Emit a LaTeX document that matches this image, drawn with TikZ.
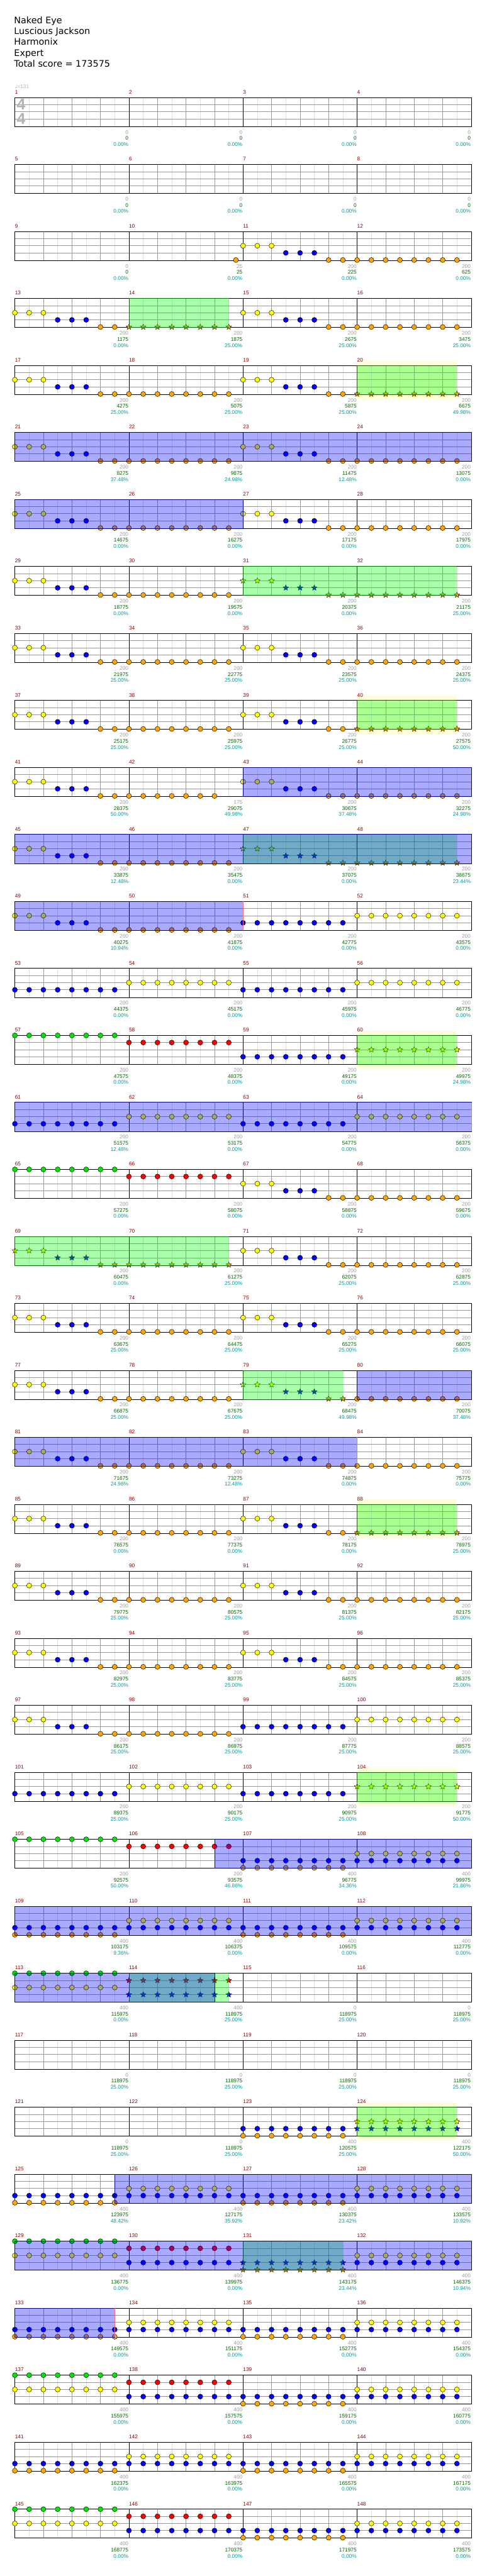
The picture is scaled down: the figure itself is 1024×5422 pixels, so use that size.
\documentclass[tikz,border=0pt]{standalone}
\usepackage{fontspec}
\setmainfont{Liberation Sans}
\newfontfamily\headfont{DejaVu Sans}
\usetikzlibrary{shapes.geometric}

\definecolor{lane0}{RGB}{0,230,0}
\definecolor{lane1}{RGB}{255,0,0}
\definecolor{lane2}{RGB}{255,255,0}
\definecolor{lane3}{RGB}{0,0,255}
\definecolor{lane4}{RGB}{255,165,0}
\definecolor{numred}{RGB}{139,0,0}
\definecolor{basegray}{RGB}{160,160,160}
\definecolor{totalgreen}{RGB}{0,100,0}
\definecolor{pctteal}{RGB}{0,155,155}
\definecolor{gridmid}{RGB}{153,153,153}
\definecolor{gridlight}{RGB}{221,221,221}
\definecolor{phraseyellow}{RGB}{255,255,215}
\definecolor{fillgreen}{RGB}{0,255,0}
\definecolor{filledge}{RGB}{0,110,0}
\definecolor{odnavy}{RGB}{0,0,128}
\definecolor{odendred}{RGB}{255,110,110}

\def\pNone{}
\def\pYBO{2/0/2,3/3/5,4/6/7}
\def\pO{4/0/7}
\def\pOs{4/0/6}
\def\pB{3/0/7}
\def\pY{2/0/7}
\def\pG{0/0/7}
\def\pR{1/0/7}
\def\pBO{3/0/7,4/0/7}
\def\pYB{2/0/7,3/0/7}
\def\pGY{0/0/7,2/0/7}
\def\pRB{1/0/7,3/0/7}

\newcommand{\zonex}[2]{31.3+240*#1+30*#2}

% row, bar, note style, notes, base, total, percent
\newcommand{\drumbar}[7]{%
  \pgfmathsetmacro{\barx}{31.3+240*#2}%
  \pgfmathsetmacro{\bary}{205.3+141*#1}%
  \pgfmathtruncatemacro{\barno}{4*#1+#2+1}%
  \node[barnum] (num\barno) at (\barx,\bary-7.6) {\barno};
  \ifx#4\pNone\else
    \foreach \lane/\nfrom/\nto in #4 {%
      \edef\notecol{lane\lane}%
      \foreach \k in {\nfrom,...,\nto}
        \node[#3,fill=\notecol] (note\barno-\lane-\k) at ({\barx+30*\k},{\bary+15*\lane}) {};
    }%
  \fi
  \node[basenum] (base\barno) at (\barx+239,\bary+76.7) {#5};
  \node[totalnum] (total\barno) at (\barx+239,\bary+89.7) {#6};
  \node[pctnum] (pct\barno) at (\barx+239,\bary+102.4) {#7\%};
}

\newcommand{\odphrase}[2]{%
  \pgfmathsetmacro{\zy}{205.3+141*#1}%
  \fill[phraseyellow] ({\zonex{#2}{0}},\zy-10) rectangle ({\zonex{#2}{7}},\zy+71);}

\newcommand{\fillzone}[5]{%
  \pgfmathsetmacro{\zy}{205.3+141*#1}%
  \fill[fillarea] ({\zonex{#2}{#3}},\zy) rectangle ({\zonex{#4}{#5}},\zy+61);
  \draw[filledge] ({\zonex{#4}{#5}},\zy) -- ({\zonex{#2}{#3}},\zy)
    -- ({\zonex{#2}{#3}},\zy+61) -- ({\zonex{#4}{#5}},\zy+61);}

\newcommand{\odzone}[5]{%
  \pgfmathsetmacro{\zy}{205.3+141*#1}%
  \path[odarea] ({\zonex{#2}{#3}},\zy) rectangle ({\zonex{#4}{#5}},\zy+61);}

\newcommand{\odend}[3]{%
  \pgfmathsetmacro{\zy}{205.3+141*#1}%
  \draw[odendred, line width=1pt] ({\zonex{#2}{#3}},\zy) -- ++(0,61);}

\newcommand{\odstart}[1]{%
  \pgfmathsetmacro{\zy}{205.3+141*#1}%
  \draw[odnavy, line width=1pt] (991.3,\zy) -- ++(0,61);}

\begin{document}
\begin{tikzpicture}[
    x=1pt, y=-1pt,
    note/.style={circle, draw=black, line width=0.6pt, minimum size=10.6pt, inner sep=0pt},
    starnote/.style={star, star points=5, star point ratio=2.2, draw=black, line width=0.5pt, minimum size=12.5pt, inner sep=0pt},
    barnum/.style={anchor=base west, inner sep=0pt, text=numred, font=\fontsize{11}{13}\selectfont},
    basenum/.style={anchor=base east, inner sep=0pt, text=basegray, font=\fontsize{11}{13}\selectfont},
    totalnum/.style={anchor=base east, inner sep=0pt, text=totalgreen, font=\fontsize{11}{13}\selectfont},
    pctnum/.style={anchor=base east, inner sep=0pt, text=pctteal, font=\fontsize{11}{13}\selectfont},
    headline/.style={anchor=base west, inner sep=0pt, font=\headfont\fontsize{19}{23}\selectfont},
    timesig/.style={inner sep=0pt, text=basegray!80, font=\bfseries\fontsize{33}{33}\selectfont},
    thingrid/.style={draw=gridlight, line width=1pt},
    midgrid/.style={draw=gridmid, line width=1pt},
    barline/.style={draw=black, line width=1pt},
    fillarea/.style={fill=fillgreen, fill opacity=0.333},
    filledge/.style={draw=filledge, line width=1pt},
    odarea/.style={fill=lane3, fill opacity=0.333, draw=odnavy, line width=1pt},
  ]
  \fill[white] (0,0) rectangle (1024,5422);
  \useasboundingbox (0,0) rectangle (1024,5422);

  \node[headline] (song) at (29.5,49.3) {Naked Eye};
  \node[headline] (artist) at (29.5,72.3) {Luscious Jackson};
  \node[headline] (charter) at (29.5,95.3) {Harmonix};
  \node[headline] (level) at (29.5,118.3) {Expert};
  \node[headline] (score) at (29.5,141.3) {Total score = 173575};
  \node[anchor=base west, inner sep=0pt, text=basegray!80, font=\fontsize{11}{13}\selectfont]
    (tempo) at (31,185.7) {{\headfont ♩}=131};

  \odphrase{4}{3}
  \odphrase{9}{3}
  \odphrase{14}{3}
  \odphrase{21}{3}
  \odphrase{25}{3}
  \odphrase{30}{3}

  \foreach \r in {0,...,36}{
    \pgfmathsetmacro{\ty}{205.3+141*\r}
    \foreach \k in {0,...,15}
      \draw[thingrid] (61.3+60*\k,\ty) -- ++(0,61);
    \foreach \h in {15,30,45}
      \draw[midgrid] (31.3,\ty+\h) -- ++(960,0);
    \foreach \k in {1,...,15}
      \draw[midgrid] (31.3+60*\k,\ty) -- ++(0,61);
    \foreach \k in {1,2,3}
      \draw[barline] (31.3+240*\k,\ty) -- ++(0,61);
    \draw[barline] (31.3,\ty) rectangle ++(960,61);
  }

  \node[timesig] (tsupper) at (44.5,220) {4};
  \node[timesig] (tslower) at (44.5,250) {4};

  \drumbar{0}{0}{note}{\pNone}{0}{0}{0.00}
  \drumbar{0}{1}{note}{\pNone}{0}{0}{0.00}
  \drumbar{0}{2}{note}{\pNone}{0}{0}{0.00}
  \drumbar{0}{3}{note}{\pNone}{0}{0}{0.00}
  \drumbar{1}{0}{note}{\pNone}{0}{0}{0.00}
  \drumbar{1}{1}{note}{\pNone}{0}{0}{0.00}
  \drumbar{1}{2}{note}{\pNone}{0}{0}{0.00}
  \drumbar{1}{3}{note}{\pNone}{0}{0}{0.00}
  \drumbar{2}{0}{note}{\pNone}{0}{0}{0.00}
  \drumbar{2}{1}{note}{\pNone}{25}{25}{0.00}
  \drumbar{2}{2}{note}{\pYBO}{200}{225}{0.00}
  \drumbar{2}{3}{note}{\pO}{200}{625}{0.00}
  \drumbar{3}{0}{note}{\pYBO}{200}{1175}{0.00}
  \drumbar{3}{1}{starnote}{\pO}{200}{1875}{25.00}
  \drumbar{3}{2}{note}{\pYBO}{200}{2675}{25.00}
  \drumbar{3}{3}{note}{\pO}{200}{3475}{25.00}
  \drumbar{4}{0}{note}{\pYBO}{200}{4275}{25.00}
  \drumbar{4}{1}{note}{\pO}{200}{5075}{25.00}
  \drumbar{4}{2}{note}{\pYBO}{200}{5875}{25.00}
  \drumbar{4}{3}{starnote}{\pO}{200}{6675}{49.98}
  \drumbar{5}{0}{note}{\pYBO}{200}{8275}{37.48}
  \drumbar{5}{1}{note}{\pO}{200}{9875}{24.98}
  \drumbar{5}{2}{note}{\pYBO}{200}{11475}{12.48}
  \drumbar{5}{3}{note}{\pO}{200}{13075}{0.00}
  \drumbar{6}{0}{note}{\pYBO}{200}{14675}{0.00}
  \drumbar{6}{1}{note}{\pO}{200}{16275}{0.00}
  \drumbar{6}{2}{note}{\pYBO}{200}{17175}{0.00}
  \drumbar{6}{3}{note}{\pO}{200}{17975}{0.00}
  \drumbar{7}{0}{note}{\pYBO}{200}{18775}{0.00}
  \drumbar{7}{1}{note}{\pO}{200}{19575}{0.00}
  \drumbar{7}{2}{starnote}{\pYBO}{200}{20375}{0.00}
  \drumbar{7}{3}{starnote}{\pO}{200}{21175}{25.00}
  \drumbar{8}{0}{note}{\pYBO}{200}{21975}{25.00}
  \drumbar{8}{1}{note}{\pO}{200}{22775}{25.00}
  \drumbar{8}{2}{note}{\pYBO}{200}{23575}{25.00}
  \drumbar{8}{3}{note}{\pO}{200}{24375}{25.00}
  \drumbar{9}{0}{note}{\pYBO}{200}{25175}{25.00}
  \drumbar{9}{1}{note}{\pO}{200}{25975}{25.00}
  \drumbar{9}{2}{note}{\pYBO}{200}{26775}{25.00}
  \drumbar{9}{3}{starnote}{\pO}{200}{27575}{50.00}
  \drumbar{10}{0}{note}{\pYBO}{200}{28375}{50.00}
  \drumbar{10}{1}{note}{\pOs}{175}{29075}{49.98}
  \drumbar{10}{2}{note}{\pYBO}{200}{30675}{37.48}
  \drumbar{10}{3}{note}{\pO}{200}{32275}{24.98}
  \drumbar{11}{0}{note}{\pYBO}{200}{33875}{12.48}
  \drumbar{11}{1}{note}{\pO}{200}{35475}{0.00}
  \drumbar{11}{2}{starnote}{\pYBO}{200}{37075}{0.00}
  \drumbar{11}{3}{starnote}{\pO}{200}{38675}{23.44}
  \drumbar{12}{0}{note}{\pYBO}{200}{40275}{10.94}
  \drumbar{12}{1}{note}{\pO}{200}{41875}{0.00}
  \drumbar{12}{2}{note}{\pB}{200}{42775}{0.00}
  \drumbar{12}{3}{note}{\pY}{200}{43575}{0.00}
  \drumbar{13}{0}{note}{\pB}{200}{44375}{0.00}
  \drumbar{13}{1}{note}{\pY}{200}{45175}{0.00}
  \drumbar{13}{2}{note}{\pB}{200}{45975}{0.00}
  \drumbar{13}{3}{note}{\pY}{200}{46775}{0.00}
  \drumbar{14}{0}{note}{\pG}{200}{47575}{0.00}
  \drumbar{14}{1}{note}{\pR}{200}{48375}{0.00}
  \drumbar{14}{2}{note}{\pB}{200}{49175}{0.00}
  \drumbar{14}{3}{starnote}{\pY}{200}{49975}{24.98}
  \drumbar{15}{0}{note}{\pB}{200}{51575}{12.48}
  \drumbar{15}{1}{note}{\pY}{200}{53175}{0.00}
  \drumbar{15}{2}{note}{\pB}{200}{54775}{0.00}
  \drumbar{15}{3}{note}{\pY}{200}{56375}{0.00}
  \drumbar{16}{0}{note}{\pG}{200}{57275}{0.00}
  \drumbar{16}{1}{note}{\pR}{200}{58075}{0.00}
  \drumbar{16}{2}{note}{\pYBO}{200}{58875}{0.00}
  \drumbar{16}{3}{note}{\pO}{200}{59675}{0.00}
  \drumbar{17}{0}{starnote}{\pYBO}{200}{60475}{0.00}
  \drumbar{17}{1}{starnote}{\pO}{200}{61275}{25.00}
  \drumbar{17}{2}{note}{\pYBO}{200}{62075}{25.00}
  \drumbar{17}{3}{note}{\pO}{200}{62875}{25.00}
  \drumbar{18}{0}{note}{\pYBO}{200}{63675}{25.00}
  \drumbar{18}{1}{note}{\pO}{200}{64475}{25.00}
  \drumbar{18}{2}{note}{\pYBO}{200}{65275}{25.00}
  \drumbar{18}{3}{note}{\pO}{200}{66075}{25.00}
  \drumbar{19}{0}{note}{\pYBO}{200}{66875}{25.00}
  \drumbar{19}{1}{note}{\pO}{200}{67675}{25.00}
  \drumbar{19}{2}{starnote}{\pYBO}{200}{68475}{49.98}
  \drumbar{19}{3}{note}{\pO}{200}{70075}{37.48}
  \drumbar{20}{0}{note}{\pYBO}{200}{71675}{24.98}
  \drumbar{20}{1}{note}{\pO}{200}{73275}{12.48}
  \drumbar{20}{2}{note}{\pYBO}{200}{74875}{0.00}
  \drumbar{20}{3}{note}{\pO}{200}{75775}{0.00}
  \drumbar{21}{0}{note}{\pYBO}{200}{76575}{0.00}
  \drumbar{21}{1}{note}{\pO}{200}{77375}{0.00}
  \drumbar{21}{2}{note}{\pYBO}{200}{78175}{0.00}
  \drumbar{21}{3}{starnote}{\pO}{200}{78975}{25.00}
  \drumbar{22}{0}{note}{\pYBO}{200}{79775}{25.00}
  \drumbar{22}{1}{note}{\pO}{200}{80575}{25.00}
  \drumbar{22}{2}{note}{\pYBO}{200}{81375}{25.00}
  \drumbar{22}{3}{note}{\pO}{200}{82175}{25.00}
  \drumbar{23}{0}{note}{\pYBO}{200}{82975}{25.00}
  \drumbar{23}{1}{note}{\pO}{200}{83775}{25.00}
  \drumbar{23}{2}{note}{\pYBO}{200}{84575}{25.00}
  \drumbar{23}{3}{note}{\pO}{200}{85375}{25.00}
  \drumbar{24}{0}{note}{\pYBO}{200}{86175}{25.00}
  \drumbar{24}{1}{note}{\pO}{200}{86975}{25.00}
  \drumbar{24}{2}{note}{\pB}{200}{87775}{25.00}
  \drumbar{24}{3}{note}{\pY}{200}{88575}{25.00}
  \drumbar{25}{0}{note}{\pB}{200}{89375}{25.00}
  \drumbar{25}{1}{note}{\pY}{200}{90175}{25.00}
  \drumbar{25}{2}{note}{\pB}{200}{90975}{25.00}
  \drumbar{25}{3}{starnote}{\pY}{200}{91775}{50.00}
  \drumbar{26}{0}{note}{\pG}{200}{92575}{50.00}
  \drumbar{26}{1}{note}{\pR}{200}{93575}{46.86}
  \drumbar{26}{2}{note}{\pBO}{400}{96775}{34.36}
  \drumbar{26}{3}{note}{\pYB}{400}{99975}{21.86}
  \drumbar{27}{0}{note}{\pBO}{400}{103175}{9.36}
  \drumbar{27}{1}{note}{\pYB}{400}{106375}{0.00}
  \drumbar{27}{2}{note}{\pBO}{400}{109575}{0.00}
  \drumbar{27}{3}{note}{\pYB}{400}{112775}{0.00}
  \drumbar{28}{0}{note}{\pGY}{400}{115975}{0.00}
  \drumbar{28}{1}{starnote}{\pRB}{400}{118975}{25.00}
  \drumbar{28}{2}{note}{\pNone}{0}{118975}{25.00}
  \drumbar{28}{3}{note}{\pNone}{0}{118975}{25.00}
  \drumbar{29}{0}{note}{\pNone}{0}{118975}{25.00}
  \drumbar{29}{1}{note}{\pNone}{0}{118975}{25.00}
  \drumbar{29}{2}{note}{\pNone}{0}{118975}{25.00}
  \drumbar{29}{3}{note}{\pNone}{0}{118975}{25.00}
  \drumbar{30}{0}{note}{\pNone}{0}{118975}{25.00}
  \drumbar{30}{1}{note}{\pNone}{0}{118975}{25.00}
  \drumbar{30}{2}{note}{\pBO}{400}{120575}{25.00}
  \drumbar{30}{3}{starnote}{\pYB}{400}{122175}{50.00}
  \drumbar{31}{0}{note}{\pBO}{400}{123975}{48.42}
  \drumbar{31}{1}{note}{\pYB}{400}{127175}{35.92}
  \drumbar{31}{2}{note}{\pBO}{400}{130375}{23.42}
  \drumbar{31}{3}{note}{\pYB}{400}{133575}{10.92}
  \drumbar{32}{0}{note}{\pGY}{400}{136775}{0.00}
  \drumbar{32}{1}{note}{\pRB}{400}{139975}{0.00}
  \drumbar{32}{2}{starnote}{\pBO}{400}{143175}{23.44}
  \drumbar{32}{3}{note}{\pYB}{400}{146375}{10.94}
  \drumbar{33}{0}{note}{\pBO}{400}{149575}{0.00}
  \drumbar{33}{1}{note}{\pYB}{400}{151175}{0.00}
  \drumbar{33}{2}{note}{\pBO}{400}{152775}{0.00}
  \drumbar{33}{3}{note}{\pYB}{400}{154375}{0.00}
  \drumbar{34}{0}{note}{\pGY}{400}{155975}{0.00}
  \drumbar{34}{1}{note}{\pRB}{400}{157575}{0.00}
  \drumbar{34}{2}{note}{\pBO}{400}{159175}{0.00}
  \drumbar{34}{3}{note}{\pYB}{400}{160775}{0.00}
  \drumbar{35}{0}{note}{\pBO}{400}{162375}{0.00}
  \drumbar{35}{1}{note}{\pYB}{400}{163975}{0.00}
  \drumbar{35}{2}{note}{\pBO}{400}{165575}{0.00}
  \drumbar{35}{3}{note}{\pYB}{400}{167175}{0.00}
  \drumbar{36}{0}{note}{\pGY}{400}{168775}{0.00}
  \drumbar{36}{1}{note}{\pRB}{400}{170375}{0.00}
  \drumbar{36}{2}{note}{\pBO}{400}{171975}{0.00}
  \drumbar{36}{3}{note}{\pYB}{400}{173575}{0.00}

  \node[note, fill=lane4] (pickup) at (496.3,547.3) {};

  \fillzone{3}{1}{0}{1}{7}
  \fillzone{4}{3}{0}{3}{7}
  \fillzone{7}{2}{0}{3}{7}
  \fillzone{9}{3}{0}{3}{7}
  \fillzone{11}{2}{0}{3}{7}
  \fillzone{14}{3}{0}{3}{7}
  \fillzone{17}{0}{0}{1}{7}
  \fillzone{19}{2}{0}{2}{7}
  \fillzone{21}{3}{0}{3}{7}
  \fillzone{25}{3}{0}{3}{7}
  \fillzone{28}{1}{0}{1}{7}
  \fillzone{30}{3}{0}{3}{7}
  \fillzone{32}{2}{0}{2}{7}

  \odzone{5}{0}{0}{4}{0}
  \odzone{6}{0}{0}{2}{0}
  \odzone{10}{2}{0}{4}{0}
  \odzone{11}{0}{0}{4}{0}
  \odzone{12}{0}{0}{2}{0}
  \odzone{15}{0}{0}{4}{0}
  \odzone{19}{3}{0}{4}{0}
  \odzone{20}{0}{0}{3}{0}
  \odzone{26}{1}{6}{4}{0}
  \odzone{27}{0}{0}{4}{0}
  \odzone{28}{0}{0}{1}{6}
  \odzone{31}{0}{7}{4}{0}
  \odzone{32}{0}{0}{4}{0}
  \odzone{33}{0}{0}{0}{7}

  \odend{12}{2}{0}
  \odend{15}{4}{0}
  \odend{20}{3}{0}
  \odend{33}{0}{7}
  \odstart{4}
  \odstart{14}
\end{tikzpicture}
\end{document}
